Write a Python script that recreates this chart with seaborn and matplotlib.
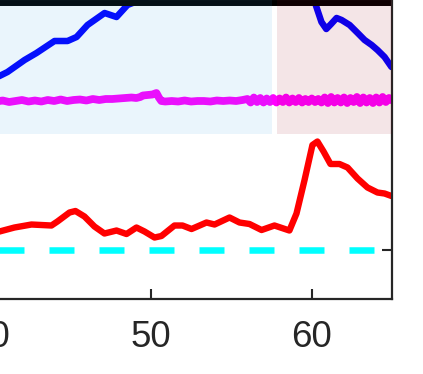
import matplotlib
matplotlib.use('Agg')
import matplotlib.pyplot as plt
import seaborn as sns
import numpy as np

sns.set_style('ticks')
plt.rcParams['font.family'] = ['Liberation Sans', 'DejaVu Sans']
plt.rcParams['lines.scale_dashes'] = False
plt.rcParams['lines.solid_joinstyle'] = 'round'
plt.rcParams['lines.solid_capstyle'] = 'round'

# ---- data ----
blue_x = [38.0, 39.5, 40.6, 41.1, 42.16, 42.9, 44.02, 44.83, 45.39, 46.07, 47.13, 47.87,
          48.55, 48.87, 49.9, 51.0, 53.0, 57.0, 59.5, 60.04, 60.35, 60.6, 60.9, 61.2,
          61.54, 61.85, 62.35, 62.85, 63.28, 63.72, 64.08, 64.52, 64.95]
blue_y = [3.1, 3.3, 3.48, 3.56, 3.80, 3.94, 4.18, 4.18, 4.26, 4.50, 4.74, 4.66,
          4.90, 4.94, 5.04, 5.6, 6.3, 6.4, 5.9, 5.1, 4.8, 4.56, 4.42, 4.52,
          4.64, 4.60, 4.50, 4.34, 4.20, 4.10, 4.00, 3.86, 3.66]

red_x = [38.0, 39.5, 40.6, 41.53, 42.59, 43.83, 44.2, 44.95, 45.32, 45.88, 46.5, 47.12,
         47.87, 48.49, 49.11, 49.61, 50.23, 50.66, 51.47, 51.97, 52.53, 53.46, 53.96,
         54.89, 55.51, 56.13, 56.88, 57.68, 58.61, 59.05, 59.55, 60.04, 60.35, 60.73,
         61.16, 61.72, 62.22, 62.84, 63.46, 64.08, 64.52, 64.95]
red_y = [0.30, 0.33, 0.37, 0.45, 0.51, 0.49, 0.57, 0.75, 0.78, 0.67, 0.47, 0.33,
         0.39, 0.32, 0.45, 0.37, 0.25, 0.28, 0.49, 0.49, 0.42, 0.55, 0.51,
         0.65, 0.55, 0.52, 0.40, 0.49, 0.39, 0.73, 1.40, 2.10, 2.17, 1.97,
         1.72, 1.72, 1.65, 1.43, 1.25, 1.15, 1.13, 1.08]

magenta_x = [38.0, 38.4, 38.8, 39.2, 39.6, 40.0, 40.4, 40.8, 41.2, 41.6, 42.0, 42.4,
             42.8, 43.2, 43.6, 44.0, 44.4, 44.8, 45.2, 45.6, 46.0, 46.4, 46.8, 47.2,
             47.6, 48.0, 48.4, 48.8, 49.1, 49.35, 49.5, 49.8, 50.1, 50.35, 50.5, 50.65,
             50.9, 51.3, 51.7, 52.1, 52.5, 52.9, 53.3, 53.7, 54.1, 54.5, 54.9, 55.3, 55.7,
             56.0, 56.2, 56.4, 56.6, 56.8, 57.0, 57.2, 57.4, 57.6, 57.8, 58.0, 58.2,
             58.4, 58.6, 58.8, 59.0, 59.2, 59.4, 59.6, 59.8, 60.0, 60.2, 60.4, 60.6,
             60.8, 61.0, 61.2, 61.4, 61.6, 61.8, 62.0, 62.2, 62.4, 62.6, 62.8, 63.0,
             63.2, 63.4, 63.6, 63.8, 64.0, 64.2, 64.4, 64.6, 64.8, 65.0]
magenta_y = [2.97, 2.99, 2.96, 2.98, 2.96, 2.99, 2.97, 2.99, 2.96, 2.98, 3.00, 2.97,
             2.99, 2.97, 3.00, 2.98, 3.01, 2.98, 3.00, 3.01, 2.99, 3.02, 3.00, 3.02,
             3.02, 3.03, 3.04, 3.05, 3.04, 3.06, 3.09, 3.10, 3.11, 3.14, 3.05, 2.98,
             2.97, 2.98, 2.97, 2.99, 2.97, 2.98, 2.98, 2.97, 2.99, 2.98, 2.99, 2.98, 3.00,
             3.02, 2.95, 3.05, 2.96, 3.04, 2.95, 3.03, 2.96, 3.04, 2.95, 3.03, 2.96,
             3.05, 2.95, 3.03, 2.96, 3.04, 2.95, 3.02, 2.96, 3.03, 2.96, 3.02, 2.95,
             3.05, 2.94, 3.06, 2.95, 3.04, 2.95, 3.05, 2.94, 3.04, 2.96, 3.06, 2.94,
             3.05, 2.95, 3.04, 2.94, 3.05, 2.95, 3.06, 2.96, 3.04, 2.99]

black_x = [35.0, 65.0]
black_y = [4.94, 4.94]

cyan_x = [40.5, 65.0]
cyan_y = [0.0, 0.0]

# shaded regions (x start, x end, y bottom)
blue_span = (35.0, 57.5, 2.33)
pink_span = (57.81, 65.0, 2.33)

x_ticks = [40, 50, 60]
y_ticks = [0]

# ---- figure ----
fig = plt.figure(figsize=(4.23, 3.74), dpi=100)
ax = fig.add_axes([-0.2144, 0.2005, 1.1418, 0.9332])

sns.lineplot(x=red_x, y=red_y, color='#FF0000', lw=4.6, ax=ax)
sns.lineplot(x=magenta_x, y=magenta_y, color='#FF00FF', lw=5.6, ax=ax)
sns.lineplot(x=blue_x, y=blue_y, color='#0000FF', lw=4.7, ax=ax)
sns.lineplot(x=black_x, y=black_y, color='black', lw=4.3, ax=ax)
sns.lineplot(x=cyan_x, y=cyan_y, color='#00FFFF', lw=4.7,
             linestyle=(0, (18, 18)), dash_capstyle='butt', ax=ax)

ax.fill_between([blue_span[0], blue_span[1]], blue_span[2], 10,
                color=(0.2, 0.65, 0.9), alpha=0.1, lw=0, zorder=5)
ax.fill_between([pink_span[0], pink_span[1]], pink_span[2], 10,
                color=(0.6, 0.0, 0.1), alpha=0.1, lw=0, zorder=5)

ax.set_xlim(35, 65)
ax.set_ylim(-0.98, 6)
ax.set_xticks(x_ticks)
ax.set_yticks(y_ticks)

for s in ax.spines.values():
    s.set_visible(True)
    s.set_linewidth(1.6)
    s.set_color('#262626')
ax.tick_params(direction='in', length=7.2, width=1.5, colors='#262626',
               labelsize=26.5, pad=15, top=True, right=True)
ax.tick_params(axis='y', labelleft=False)

fig.savefig('out.png', dpi=100)
